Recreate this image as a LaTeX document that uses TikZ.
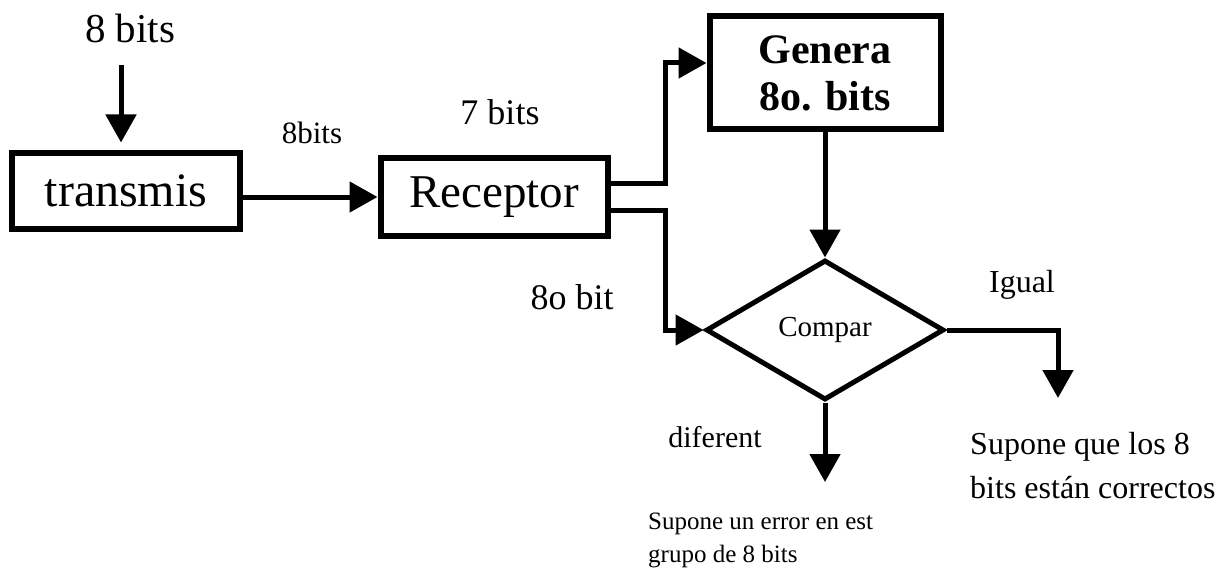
\documentclass[tikz,border=0pt]{standalone}
\usepackage{fontspec}
\setmainfont{Liberation Serif}
\usetikzlibrary{arrows.meta,shapes.geometric}
\tikzset{
  blockbox/.style={draw, line width=6pt, inner sep=0pt, align=center},
  conn/.style={line width=5pt},
  arr/.style={conn, -{Triangle[length=28pt,width=30pt]}},
  lbl/.style={inner sep=0pt, align=left},
}
\begin{document}
\begin{tikzpicture}[x=1pt,y=-1pt]
\useasboundingbox (0,0) rectangle (1224,575);

% blocks
\node[blockbox, minimum width=228pt, minimum height=75pt, font=\fontsize{48}{50}\selectfont] (transmis) at (126,191) {transmis};
\node[blockbox, minimum width=227pt, minimum height=77pt, font=\fontsize{47}{50}\selectfont] (receptor) at (494,197) {Receptor};
\node[blockbox, minimum width=231pt, minimum height=113pt, font=\fontsize{42}{47}\selectfont\bfseries] (genera) at (825,73) {Genera\\8o. bits};
\node[draw, diamond, line width=5pt, inner sep=0pt, minimum width=238pt, minimum height=140pt, font=\fontsize{29}{32}\selectfont] (compar) at (825,330) {Compar};

% free ends
\coordinate (src) at (121,65);
\coordinate (iguend) at (1058,398);
\coordinate (difend) at (825,482);

% labels
\node[lbl, font=\fontsize{41}{44}\selectfont] (l8bits) at (130,28) {8 bits};
\node[lbl, font=\fontsize{31}{34}\selectfont] (l8bitsb) at (312,133) {8bits};
\node[lbl, font=\fontsize{36}{40}\selectfont] (l7bits) at (500,112) {7 bits};
\node[lbl, font=\fontsize{36}{40}\selectfont] (l8obit) at (572,297) {8o bit};
\node[lbl, font=\fontsize{32}{36}\selectfont] (ligual) at (1022,285) {Igual};
\node[lbl, font=\fontsize{30}{34}\selectfont] (ldif) at (715,437) {diferent};
\node[lbl, anchor=west, font=\fontsize{32}{44}\selectfont] (lok) at (970,466) {Supone que los 8\\bits están correctos};
\node[lbl, anchor=west, font=\fontsize{25}{33}\selectfont] (lerr) at (648,540) {Supone un error en est\\grupo de 8 bits};

% connectors
\draw[arr, shorten >=8pt] (src) -- (src |- transmis.north);
\draw[arr] (transmis.east |- receptor.west) -- (receptor.west);
\draw[arr] ([yshift=13pt]receptor.east) -- ++(55pt,0pt) |- ([yshift=10pt]genera.west);
\draw[arr] ([yshift=-13pt]receptor.east) -- ++(55pt,0pt) |- (compar.west);
\draw[arr] (genera.south) -- (compar.north);
\draw[arr] (compar.east) -| (iguend);
\draw[arr] (compar.south) -- (difend);
\end{tikzpicture}
\end{document}
